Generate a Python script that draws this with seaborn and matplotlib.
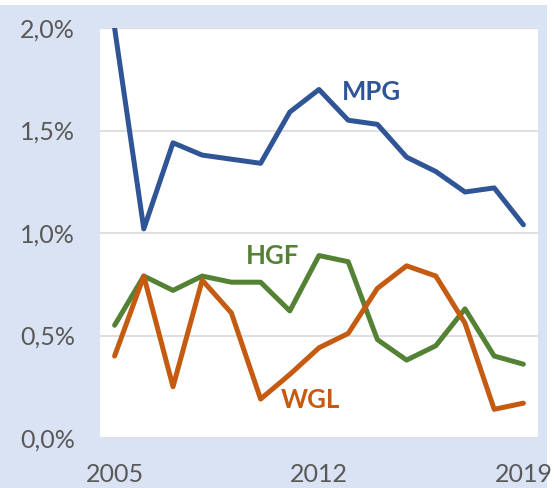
import pandas as pd
import seaborn as sns
import matplotlib.pyplot as plt
from matplotlib.patches import Rectangle
from matplotlib.ticker import FuncFormatter

years = list(range(2005, 2020))
mpg = [2.00, 1.02, 1.44, 1.38, 1.36, 1.34, 1.59, 1.70, 1.55, 1.53, 1.37, 1.30, 1.20, 1.22, 1.04]
hgf = [0.55, 0.79, 0.72, 0.79, 0.76, 0.76, 0.62, 0.89, 0.86, 0.48, 0.38, 0.45, 0.63, 0.40, 0.36]
wgl = [0.40, 0.79, 0.25, 0.77, 0.61, 0.19, 0.31, 0.44, 0.51, 0.73, 0.84, 0.79, 0.56, 0.14, 0.17]

colors = {'MPG': '#2f5597', 'HGF': '#548235', 'WGL': '#c55a11'}

df = pd.concat([
    pd.DataFrame({'Jahr': years, 'Anteil': mpg, 'Org': 'MPG'}),
    pd.DataFrame({'Jahr': years, 'Anteil': hgf, 'Org': 'HGF'}),
    pd.DataFrame({'Jahr': years, 'Anteil': wgl, 'Org': 'WGL'}),
])

sns.set_style('white')
plt.rcParams['font.family'] = ['Lato', 'DejaVu Sans']

fig = plt.figure(figsize=(5.54, 4.88), dpi=100, facecolor='white')
fig.patches.append(Rectangle((0, 0), 547 / 554, 483 / 488, transform=fig.transFigure,
                             facecolor='#dae3f3', edgecolor='none', zorder=-10))
ax = fig.add_axes([100 / 554, 1 - 438 / 488, 438 / 554, 410 / 488])
ax.set_facecolor('white')

sns.lineplot(data=df, x='Jahr', y='Anteil', hue='Org', palette=colors,
             linewidth=3.6, legend=False, ax=ax)

ax.set_xlim(2004.5, 2019.5)
ax.set_ylim(0, 2.0)
ax.set_xticks([2005, 2012, 2019])
ax.set_yticks([0, 0.5, 1.0, 1.5, 2.0])
ax.yaxis.set_major_formatter(FuncFormatter(lambda v, p: f'{v:.1f}%'.replace('.', ',')))
ax.tick_params(axis='both', labelsize=18, colors='#595959', length=0)
ax.tick_params(axis='x', pad=18)
ax.tick_params(axis='y', pad=18)
ax.set_xlabel('')
ax.set_ylabel('')
ax.grid(axis='y', color='#d9d9d9', linewidth=1.2)
ax.set_axisbelow(True)
for s in ax.spines.values():
    s.set_visible(False)

ax.text(2013.8, 1.69, 'MPG', color=colors['MPG'], fontsize=18.5, fontweight='bold', ha='center', va='center')
ax.text(2010.4, 0.89, 'HGF', color=colors['HGF'], fontsize=18.5, fontweight='bold', ha='center', va='center')
ax.text(2011.7, 0.185, 'WGL', color=colors['WGL'], fontsize=18.5, fontweight='bold', ha='center', va='center')

fig.savefig('out.png', dpi=100, facecolor=fig.get_facecolor())
